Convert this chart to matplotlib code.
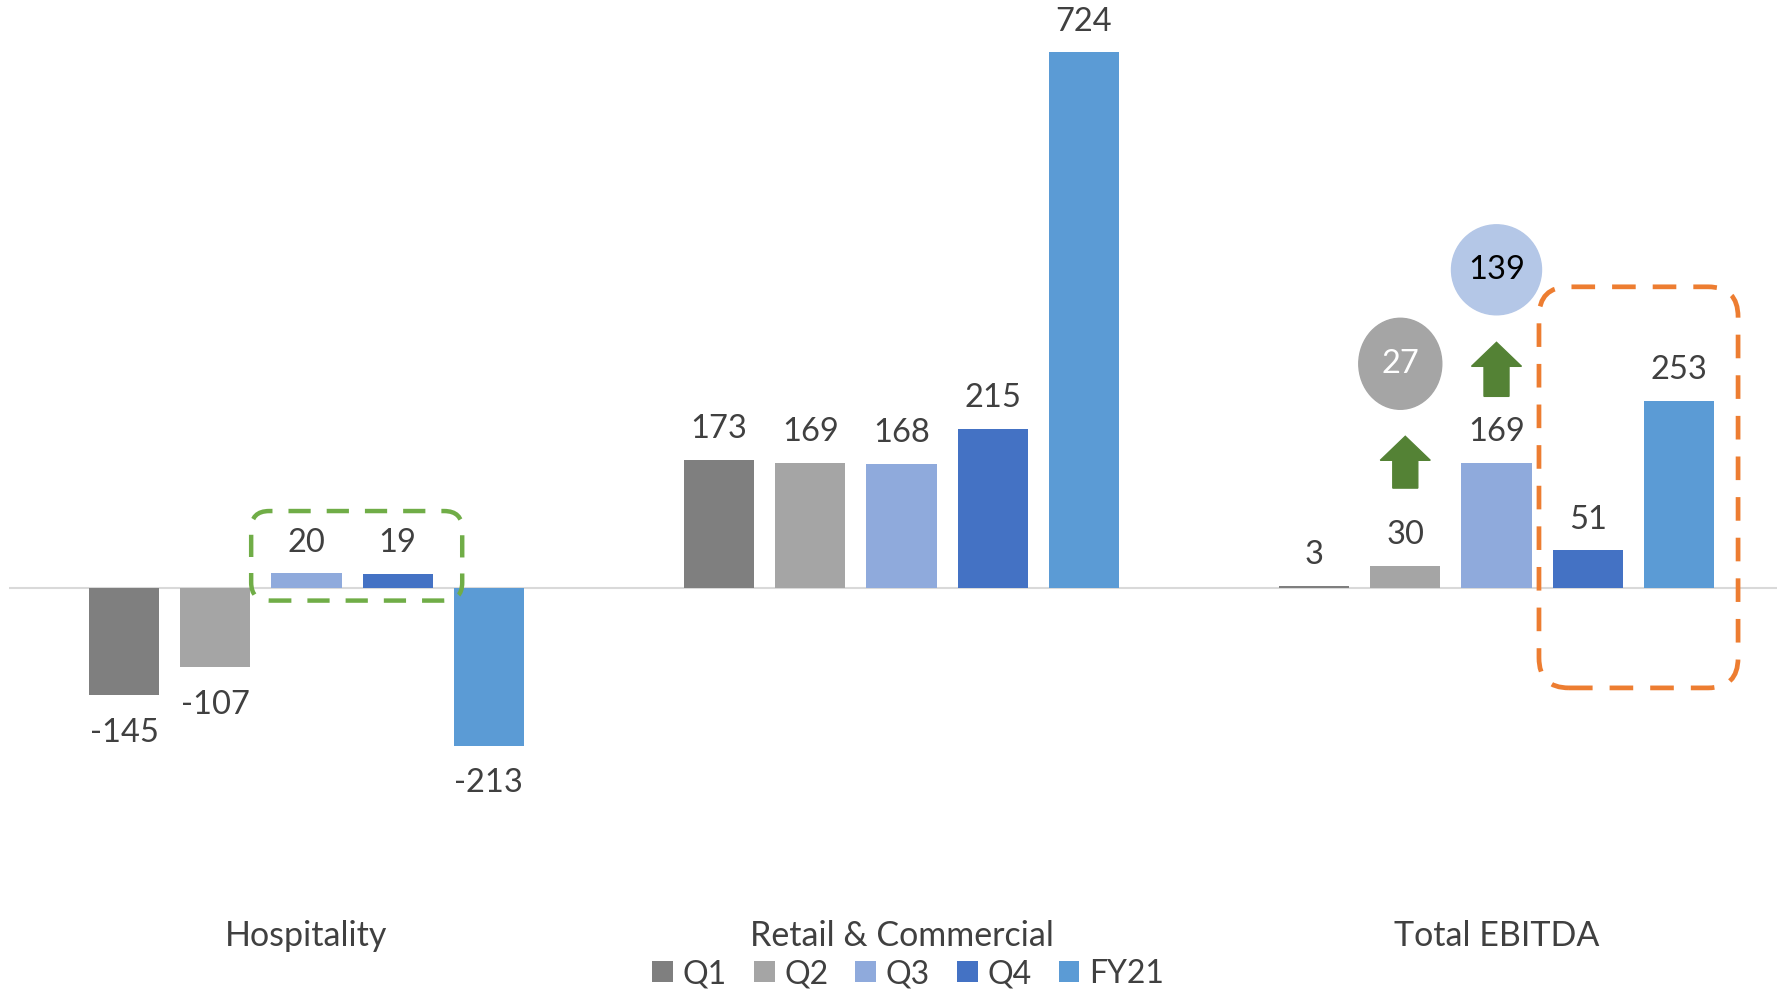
import matplotlib
matplotlib.use("Agg")
import matplotlib.pyplot as plt
import numpy as np
from matplotlib.patches import FancyBboxPatch, Ellipse, Polygon

plt.rcParams['font.family'] = ['Lato', 'DejaVu Sans']

# Data
categories = ["Hospitality", "Retail & Commercial", "Total EBITDA"]
series_names = ["Q1", "Q2", "Q3", "Q4", "FY21"]
q1 = [-145, 173, 3]
q2 = [-107, 169, 30]
q3 = [20, 168, 169]
q4 = [19, 215, 51]
fy21 = [-213, 724, 253]
series_values = [q1, q2, q3, q4, fy21]
colors = ["#7F7F7F", "#A5A5A5", "#8FAADC", "#4472C4", "#5B9BD5"]

# callouts on Total EBITDA
uplift_q2 = 27
uplift_q3 = 139

TEXT = "#404040"
W, H = 1777, 993

fig = plt.figure(figsize=(W / 100, H / 100), dpi=100)
ax_left, ax_bottom_px, ax_top_px = 9, 884, -4
ax = fig.add_axes([ax_left / W, 1 - ax_bottom_px / H, 3 * 595 / W, (ax_bottom_px - ax_top_px) / H])
ax.set_xlim(-0.5, 2.5)
ax.set_ylim(-400, 800)

x = np.arange(len(categories))
step = 0.1533
bw = 0.118
for i, (name, vals, c) in enumerate(zip(series_names, series_values, colors)):
    xs = x + (i - 2) * step
    ax.bar(xs, vals, width=bw, color=c, label=name, zorder=2)
    for xi, v in zip(xs, vals):
        off = 22 if v >= 0 else -27
        ax.annotate(str(v), (xi, v), xytext=(0, off), textcoords="offset points",
                    ha="center", va="center", fontsize=23.5, color=TEXT)

ax.axhline(0, color="#D9D9D9", lw=1.5, zorder=1)

for s in ax.spines.values():
    s.set_visible(False)
ax.set_yticks([])
ax.set_xticks(x)
ax.set_xticklabels(categories, fontsize=24.5, color=TEXT)
ax.tick_params(axis="x", length=0, pad=26)

# px -> data scale helpers
px_x = 1 / 595.0
px_y = 1 / 0.74

# circles with uplift values
xq2 = x[2] - 1 * step
xq3 = x[2]
circ1 = Ellipse((xq2 - 5 * px_x, 303), 83 * px_x, 91 * px_y, color="#A5A5A5", zorder=3)
circ2 = Ellipse((xq3, 430), 90 * px_x, 90 * px_y, color="#B4C7E7", zorder=3)
ax.add_patch(circ1)
ax.add_patch(circ2)
ax.text(xq2 - 5 * px_x, 303, str(uplift_q2), ha="center", va="center", fontsize=23.5, color="white", zorder=4)
ax.text(xq3, 430, str(uplift_q3), ha="center", va="center", fontsize=23.5, color="black", zorder=4)


def up_arrow(xc, y0, y1):
    hw = 25 * px_x
    sw = 12.5 * px_x
    hl = 24 * px_y
    pts = [(xc - sw, y0), (xc + sw, y0), (xc + sw, y1 - hl), (xc + hw, y1 - hl),
           (xc, y1), (xc - hw, y1 - hl), (xc - sw, y1 - hl)]
    ax.add_patch(Polygon(pts, closed=True, color="#548235", zorder=3))


up_arrow(xq2, 135, 205)
up_arrow(xq3, 259, 332)

# dashed highlight boxes
r = 30 * px_x
box_o = FancyBboxPatch((2.0714, -135), 2.406 - 2.0714, 407 + 135,
                       boxstyle="round,pad=0,rounding_size=%f" % r,
                       mutation_aspect=px_y / px_x, fill=False, ec="#ED7D31",
                       lw=3.4, ls=(0, (5, 3.6)), zorder=4)
ax.add_patch(box_o)
r2 = 18 * px_x
box_g = FancyBboxPatch((-0.093, -17), 0.2617 + 0.093, 104 + 17,
                       boxstyle="round,pad=0,rounding_size=%f" % r2,
                       mutation_aspect=px_y / px_x, fill=False, ec="#70AD47",
                       lw=3.2, ls=(0, (5, 3.6)), zorder=4)
ax.add_patch(box_g)

leg = ax.legend(loc="center", bbox_to_anchor=(908 / W, 1 - 974 / H), bbox_transform=fig.transFigure,
                ncol=5, frameon=False, fontsize=23, handlelength=0.65, handleheight=0.65,
                handletextpad=0.3, columnspacing=0.85)
for t in leg.get_texts():
    t.set_color(TEXT)

fig.savefig("out.png", dpi=100)
